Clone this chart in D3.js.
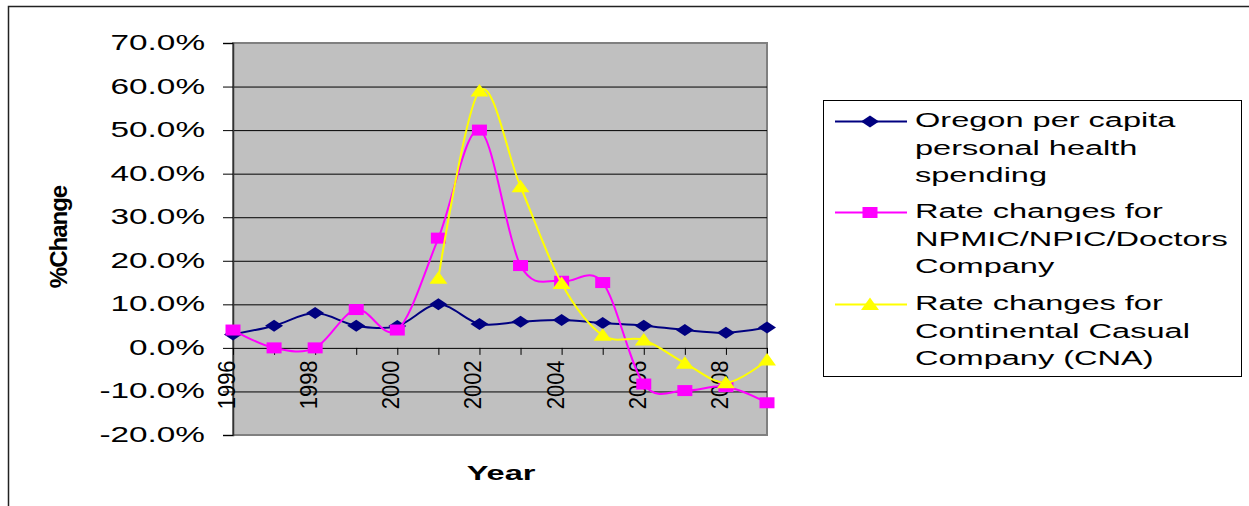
<!DOCTYPE html>
<html>
<head>
<meta charset="utf-8">
<script src="https://cdn.jsdelivr.net/npm/d3@7"></script>
<style>
  html, body { margin: 0; padding: 0; background: #fff; }
  svg { display: block; font-family: "Liberation Sans", Arial, sans-serif; }
</style>
</head>
<body>
<svg id="chart" width="1249" height="506"></svg>
<script>
// Annual % change, 1996-2009
const years = [1996, 1997, 1998, 1999, 2000, 2001, 2002, 2003, 2004, 2005, 2006, 2007, 2008, 2009];
const oregonSpending = [3.1, 5.1, 8.0, 5.1, 5.0, 10.0, 5.5, 6.0, 6.4, 5.7, 5.1, 4.1, 3.5, 4.7];
const npmicRates = [4.1, 0.0, 0.0, 8.8, 4.1, 25.2, 50.0, 18.9, 15.3, 15.0, -8.3, -9.8, -8.9, -12.6];
const cnaRates = [null, null, null, null, null, 16.0, 59.0, 37.0, 14.8, 2.9, 1.8, -3.5, -8.0, -2.8];
const yTicks = [-20, -10, 0, 10, 20, 30, 40, 50, 60, 70];
const xLabelYears = [1996, 1998, 2000, 2002, 2004, 2006, 2008];
const seriesNames = [
  ["Oregon per capita", "personal health", "spending"],
  ["Rate changes for", "NPMIC/NPIC/Doctors", "Company"],
  ["Rate changes for", "Continental Casual", "Company (CNA)"]
];

const series = [
  { values: oregonSpending, color: "#000080", marker: "diamond" },
  { values: npmicRates, color: "#ff00ff", marker: "square" },
  { values: cnaRates, color: "#ffff00", marker: "triangle" }
];

const svg = d3.select("#chart");
const plot = { left: 233, top: 43, right: 767, bottom: 435 };
const stretch = 1.55;

const x = d3.scalePoint().domain(years).range([plot.left, plot.right]);
const y = d3.scaleLinear().domain([-20, 70]).range([plot.bottom, plot.top]);

// outer chart frame
svg.append("rect")
  .attr("x", 8.5).attr("y", 6.5).attr("width", 1300).attr("height", 600)
  .attr("fill", "#fff").attr("stroke", "#222").attr("stroke-width", 1.5);

// plot area
svg.append("rect")
  .attr("x", plot.left).attr("y", plot.top)
  .attr("width", plot.right - plot.left).attr("height", plot.bottom - plot.top)
  .attr("fill", "#c0c0c0").attr("stroke", "#808080").attr("stroke-width", 2);

// horizontal gridlines
svg.append("g").selectAll("line")
  .data(yTicks.filter(t => t > -20 && t < 70))
  .join("line")
  .attr("x1", plot.left).attr("x2", plot.right)
  .attr("y1", d => y(d) + 0.5).attr("y2", d => y(d) + 0.5)
  .attr("stroke", "#000").attr("stroke-width", 1);

// value axis
const yAxis = svg.append("g")
  .attr("transform", `translate(${plot.left},0)`)
  .call(d3.axisLeft(y).tickValues(yTicks).tickSize(10).tickFormat(d => d.toFixed(1) + "%"));
yAxis.select(".domain").attr("stroke", "#333").attr("stroke-width", 1.5);
yAxis.selectAll(".tick line").attr("stroke", "#000");
yAxis.selectAll(".tick text")
  .attr("x", null).attr("dy", null)
  .attr("text-anchor", "end")
  .attr("fill", "#000")
  .style("font-size", "21.5px")
  .attr("transform", `translate(-28,6.5) scale(${stretch},1)`);

// category axis along the zero line
const xAxis = svg.append("g")
  .attr("transform", `translate(0,${y(0)})`)
  .call(d3.axisBottom(x).tickSize(7).tickFormat(d => xLabelYears.includes(d) ? String(d) : ""));
xAxis.select(".domain").remove();
xAxis.selectAll(".tick line").attr("stroke", "#000");
xAxis.selectAll(".tick text")
  .attr("y", null).attr("dy", null)
  .attr("text-anchor", "end")
  .attr("fill", "#000")
  .style("font-size", "22px")
  .attr("transform", "translate(1.5,12.5) rotate(-90) scale(1,1.1)");

// smoothed series lines
const line = d3.line()
  .defined(d => d.v !== null)
  .x(d => x(d.year))
  .y(d => y(d.v))
  .curve(d3.curveCatmullRom.alpha(0));

function markerPath(type) {
  if (type === "diamond") return "M0,-6L9,0L0,6L-9,0Z";
  if (type === "square") return "M-7.5,-5.5H7.5V5.5H-7.5Z";
  return "M0,-7L9,5.5H-9Z";
}

series.forEach(s => {
  const pts = years.map((yr, i) => ({ year: yr, v: s.values[i] })).filter(d => d.v !== null);
  const g = svg.append("g");
  g.append("path")
    .datum(pts)
    .attr("d", line)
    .attr("fill", "none")
    .attr("stroke", s.color)
    .attr("stroke-width", 2);
  g.selectAll("path.mk")
    .data(pts)
    .join("path")
    .attr("class", "mk")
    .attr("d", markerPath(s.marker))
    .attr("transform", d => `translate(${x(d.year)},${y(d.v)})`)
    .attr("fill", s.color);
});

// axis titles
svg.append("text")
  .attr("text-anchor", "middle")
  .attr("transform", `translate(501,480) scale(${stretch},1)`)
  .style("font-size", "21px").style("font-weight", "bold")
  .text("Year");

svg.append("text")
  .attr("text-anchor", "middle")
  .attr("transform", "translate(67,237) rotate(-90)")
  .style("font-size", "24px").style("font-weight", "bold")
  .style("letter-spacing", "-1px")
  .text("%Change");

// legend
const legend = svg.append("g");
legend.append("rect")
  .attr("x", 823.5).attr("y", 100.5).attr("width", 418).attr("height", 276)
  .attr("fill", "#fff").attr("stroke", "#000").attr("stroke-width", 1);

const groupBaselines = [127, 218, 310];
series.forEach((s, i) => {
  const base = groupBaselines[i];
  const my = base - 5.5;
  legend.append("line")
    .attr("x1", 835).attr("x2", 907).attr("y1", my).attr("y2", my)
    .attr("stroke", s.color).attr("stroke-width", 2);
  legend.append("path")
    .attr("d", markerPath(s.marker))
    .attr("transform", `translate(870,${my})`)
    .attr("fill", s.color);
  seriesNames[i].forEach((txt, j) => {
    legend.append("text")
      .attr("transform", `translate(915,${base + j * 27.5}) scale(${stretch},1)`)
      .style("font-size", "21px")
      .attr("fill", "#000")
      .text(txt);
  });
});
</script>
</body>
</html>
